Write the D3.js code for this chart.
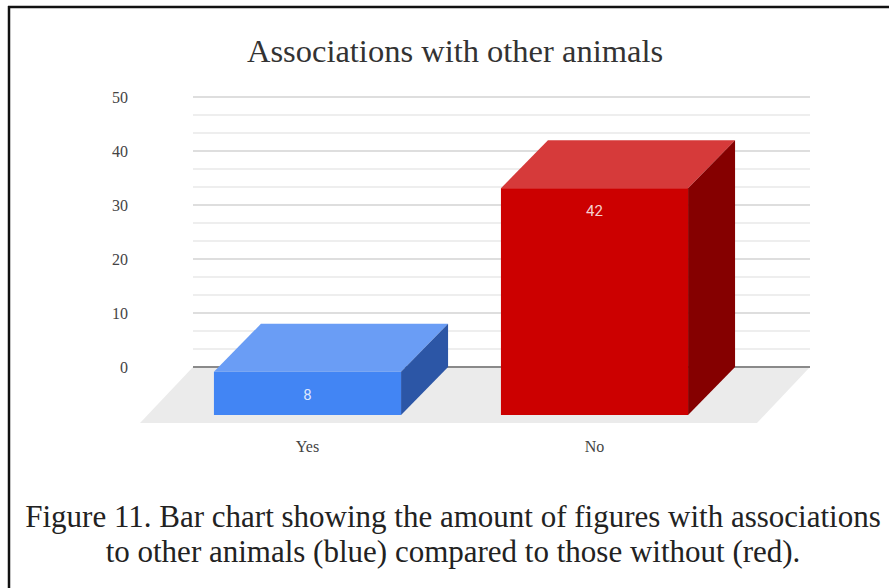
<!DOCTYPE html>
<html>
<head>
<meta charset="utf-8">
<script src="https://cdn.jsdelivr.net/npm/d3@7"></script>
<style>
  html, body { margin: 0; padding: 0; background: #fff; }
  svg { display: block; }
</style>
</head>
<body>
<svg id="chart" width="889" height="588"></svg>
<script>
// Chart data
const categories = ["Yes", "No"];
const counts = [8, 42];
const barColors = ["#4285f4", "#cc0000"];
const topColors = ["#6a9df5", "#d63a3a"];
const sideColors = ["#2c56a6", "#850000"];
const yTicks = [0, 10, 20, 30, 40, 50];
const titleText = "Associations with other animals";
const captionLines = [
  "Figure 11. Bar chart showing the amount of figures with associations",
  "to other animals (blue) compared to those without (red)."
];

const svg = d3.select("#chart");
const W = 889, H = 588;
const serif = "'Liberation Serif', 'Times New Roman', serif";

// Back-wall geometry of the oblique 3D plot
const wallLeft = 193, wallRight = 810;
const y = d3.scaleLinear().domain([0, 50]).range([367, 97]);
const x = d3.scaleBand().domain(categories).range([211, 785])
  .paddingInner(0.348).paddingOuter(0.174);
// Depth offsets (back -> front)
const barDepth = { dx: -47, dy: 48 };
const floorDepth = { dx: -53, dy: 56 };

// Page frame (open on the right and bottom)
svg.append("line").attr("x1", 8).attr("x2", W).attr("y1", 7).attr("y2", 7)
  .attr("stroke", "#111").attr("stroke-width", 2.5);
svg.append("line").attr("x1", 9).attr("x2", 9).attr("y1", 6).attr("y2", H)
  .attr("stroke", "#111").attr("stroke-width", 2.5);

// Title
svg.append("text")
  .attr("x", 455).attr("y", 62)
  .attr("text-anchor", "middle")
  .attr("font-family", serif)
  .attr("font-size", 32.5)
  .attr("fill", "#333")
  .text(titleText);

// Floor
const floorPts = [
  [wallLeft, y(0)], [wallRight, y(0)],
  [wallRight + floorDepth.dx, y(0) + floorDepth.dy],
  [wallLeft + floorDepth.dx, y(0) + floorDepth.dy]
];
svg.append("polygon")
  .attr("points", floorPts.map(p => p.join(",")).join(" "))
  .attr("fill", "#ebebeb");

// Gridlines on the back wall: major every 10, two minor lines between
const gridVals = d3.range(1, 16).map(i => i * 50 / 15);
svg.append("g").selectAll("line").data(gridVals).join("line")
  .attr("x1", wallLeft).attr("x2", wallRight)
  .attr("y1", d => y(d)).attr("y2", d => y(d))
  .attr("stroke", (d, i) => ((i + 1) % 3 === 0) ? "#dedede" : "#eeeeee")
  .attr("stroke-width", 2);

// Baseline
svg.append("line")
  .attr("x1", wallLeft).attr("x2", wallRight)
  .attr("y1", y(0)).attr("y2", y(0))
  .attr("stroke", "#8a8a8a").attr("stroke-width", 2);

// Y axis labels
const yAxis = d3.axisLeft(y).tickValues(yTicks).tickSize(0).tickPadding(0);
const yg = svg.append("g").attr("transform", "translate(128,0)").call(yAxis);
yg.select(".domain").remove();
yg.selectAll("text")
  .attr("font-family", serif)
  .attr("font-size", 16)
  .attr("fill", "#444");

// Bars (back face sits on the wall, front face shifted by barDepth)
const bars = svg.append("g").selectAll("g").data(categories).join("g");
bars.each(function (c, i) {
  const g = d3.select(this);
  const bx0 = x(c), bx1 = x(c) + x.bandwidth();
  const by0 = y(0), by1 = y(counts[i]);
  const fx0 = bx0 + barDepth.dx, fx1 = bx1 + barDepth.dx;
  const fy0 = by0 + barDepth.dy, fy1 = by1 + barDepth.dy;
  const pts = a => a.map(p => p.join(",")).join(" ");
  // top face
  g.append("polygon").attr("points", pts([[fx0, fy1], [bx0, by1], [bx1, by1], [fx1, fy1]]))
    .attr("fill", topColors[i]);
  // right side face
  g.append("polygon").attr("points", pts([[fx1, fy1], [bx1, by1], [bx1, by0], [fx1, fy0]]))
    .attr("fill", sideColors[i]);
  // front face
  g.append("rect").attr("x", fx0).attr("y", fy1)
    .attr("width", fx1 - fx0).attr("height", fy0 - fy1)
    .attr("fill", barColors[i]);
  // value label
  g.append("text")
    .attr("x", (fx0 + fx1) / 2).attr("y", fy1 + 23)
    .attr("dy", "0.35em")
    .attr("text-anchor", "middle")
    .attr("font-family", "Roboto, Arial, sans-serif")
    .attr("font-size", 15)
    .attr("fill", "#ffffff").attr("fill-opacity", 0.82)
    .text(counts[i]);
});

// Category labels
svg.append("g").selectAll("text").data(categories).join("text")
  .attr("x", d => x(d) + x.bandwidth() / 2 + barDepth.dx)
  .attr("y", 446).attr("dy", "0.35em")
  .attr("text-anchor", "middle")
  .attr("font-family", serif)
  .attr("font-size", 16)
  .attr("fill", "#444")
  .text(d => d);

// Caption
svg.append("g").selectAll("text").data(captionLines).join("text")
  .attr("x", 453).attr("y", (d, i) => 527 + i * 35)
  .attr("text-anchor", "middle")
  .attr("font-family", serif)
  .attr("font-size", 31)
  .attr("fill", "#222")
  .text(d => d);
</script>
</body>
</html>
